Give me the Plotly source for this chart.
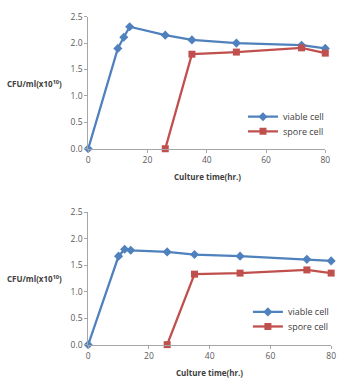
import plotly.graph_objects as go

# Top panel data
time_viable = [0, 10, 12, 14, 26, 35, 50, 72, 80]
viable_top = [0.0, 1.90, 2.11, 2.31, 2.15, 2.06, 2.00, 1.96, 1.90]
time_spore = [26, 35, 50, 72, 80]
spore_top = [0.0, 1.79, 1.83, 1.91, 1.81]

# Bottom panel data
viable_bot = [0.0, 1.67, 1.80, 1.78, 1.75, 1.70, 1.67, 1.61, 1.58]
spore_bot = [0.0, 1.33, 1.35, 1.41, 1.35]

x_ticks = [0, 20, 40, 60, 80]
y_ticks = [0.0, 0.5, 1.0, 1.5, 2.0, 2.5]
y_ticktext = ["0.0", "0.5", "1.0", "1.5", "2.0", "2.5"]

BLUE = "#4F81BD"
RED = "#C0504D"
W, H = 344, 381

fig = go.Figure()

def add_panel(viable, spore, xa, ya, leg_v, leg_s):
    fig.add_trace(go.Scatter(x=time_viable, y=viable, mode="lines+markers", name="viable cell",
                             line=dict(color=BLUE, width=2.3),
                             marker=dict(symbol="diamond", size=7, color=BLUE),
                             xaxis=xa, yaxis=ya, legend=leg_v, showlegend=True, cliponaxis=False))
    fig.add_trace(go.Scatter(x=time_spore, y=spore, mode="lines+markers", name="spore cell",
                             line=dict(color=RED, width=2.3),
                             marker=dict(symbol="square", size=7, color=RED),
                             xaxis=xa, yaxis=ya, legend=leg_s, showlegend=True, cliponaxis=False))

add_panel(viable_top, spore_top, "x", "y", "legend", "legend2")
add_panel(viable_bot, spore_bot, "x2", "y2", "legend3", "legend4")

axis_font = dict(family="Open Sans, Arial, sans-serif", size=8.5, color="#595959")
common_x = dict(range=[0, 80], tickvals=x_ticks, showgrid=False, zeroline=False,
                showline=True, linecolor="#A6A6A6", linewidth=1,
                ticks="outside", ticklen=3, tickcolor="#A6A6A6", tickfont=axis_font)
common_y = dict(range=[0, 2.5], tickvals=y_ticks, ticktext=y_ticktext, showgrid=False, zeroline=False,
                showline=True, linecolor="#A6A6A6", linewidth=1,
                ticks="outside", ticklen=3, tickcolor="#A6A6A6", tickfont=axis_font)

leg_font = dict(family="Open Sans, Arial, sans-serif", size=9, color="#404040")

def leg(xp, yp):
    return dict(x=xp / W, y=1 - yp / H, xanchor="left", yanchor="middle",
                bgcolor="rgba(0,0,0,0)", font=leg_font, itemwidth=30)

fig.update_layout(
    width=W, height=H, margin=dict(l=0, r=0, t=0, b=0),
    paper_bgcolor="white", plot_bgcolor="white", showlegend=True,
    xaxis=dict(domain=[88 / W, 330 / W], anchor="y", **common_x),
    yaxis=dict(domain=[1 - 147 / H, 1 - 11 / H], anchor="x", **common_y),
    xaxis2=dict(domain=[88 / W, 336 / W], anchor="y2", **common_x),
    yaxis2=dict(domain=[1 - 348.7 / H, 1 - 212.3 / H], anchor="x2", **common_y),
    legend=leg(246, 114),
    legend2=leg(246, 129),
    legend3=leg(251, 315),
    legend4=leg(251, 330),
)

title_font = dict(family="Open Sans, Arial, sans-serif", size=8, color="#404040")
annos = [
    dict(text="<b>Culture time(hr.)</b>", x=210 / W, y=1 - 176 / H),
    dict(text="<b>Culture time(hr.)</b>", x=212 / W, y=1 - 377 / H),
    dict(text="<b>CFU/ml(x10<sup>10</sup>)</b>", x=33 / W, y=1 - 80 / H),
    dict(text="<b>CFU/ml(x10<sup>10</sup>)</b>", x=33 / W, y=1 - 281 / H),
]
for a in annos:
    fig.add_annotation(xref="paper", yref="paper", showarrow=False, font=title_font,
                       xanchor="center", yanchor="middle", **a)

fig.write_html("out.html")
